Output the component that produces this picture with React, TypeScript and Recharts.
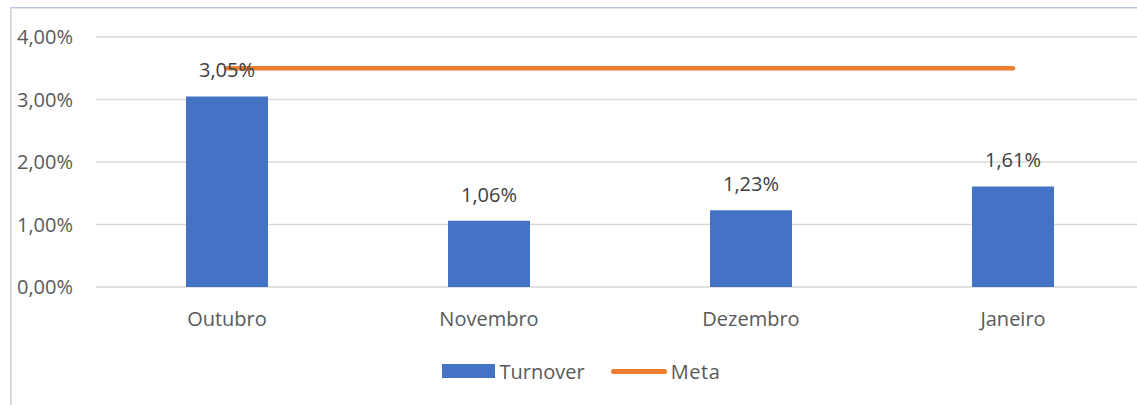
import {
  Bar,
  CartesianGrid,
  ComposedChart,
  LabelList,
  Legend,
  Line,
  XAxis,
  YAxis,
} from 'recharts'

const months = ['Outubro', 'Novembro', 'Dezembro', 'Janeiro']
const turnover = [3.05, 1.06, 1.23, 1.61]
const meta = [3.5, 3.5, 3.5, 3.5]
const yTicks = [0, 1, 2, 3, 4]

const data = months.map((name, i) => ({
  name,
  turnover: turnover[i],
  meta: meta[i],
}))

const font = "'Open Sans', sans-serif"
const textColor = '#595959'

const pct = (v: number) => v.toFixed(2).replace('.', ',') + '%'

function ChartLegend() {
  return (
    <div
      style={{
        display: 'flex',
        justifyContent: 'center',
        alignItems: 'center',
        height: 30,
        paddingLeft: 19,
        fontFamily: font,
        fontSize: 20,
        color: textColor,
      }}
    >
      <span style={{ width: 53, height: 14, background: '#4472C4', marginRight: 4 }} />
      <span>Turnover</span>
      <span
        style={{
          width: 56,
          height: 5,
          borderRadius: 3,
          background: '#ED7D31',
          marginLeft: 26,
          marginRight: 4,
        }}
      />
      <span style={{ letterSpacing: 0.6 }}>Meta</span>
    </div>
  )
}

export default function App() {
  return (
    <div
      style={{
        position: 'absolute',
        left: 0,
        top: 0,
        width: 1137,
        height: 405,
        overflow: 'hidden',
        background: '#fff',
      }}
    >
      <div
        style={{
          position: 'absolute',
          left: 10,
          top: 7,
          right: 0,
          bottom: 0,
          borderTop: '1px solid #b9c4e2',
          borderLeft: '2px solid #d9d9d9',
        }}
      />
      <div style={{ position: 'absolute', left: 12, top: 8, right: 0, height: 1, background: '#e6e6e6' }} />
      <div style={{ position: 'absolute', left: 0, top: 0 }}>
        <ComposedChart
          width={1160}
          height={405}
          data={data}
          margin={{ top: 37, right: 16, left: 0, bottom: 19 }}
        >
          <CartesianGrid vertical={false} stroke='#d9d9d9' strokeWidth={1.5} />
          <XAxis
            dataKey='name'
            height={69}
            tickLine={false}
            axisLine={false}
            tickMargin={19}
            tick={{ fill: textColor, fontSize: 20, fontFamily: font }}
          />
          <YAxis
            width={96}
            domain={[0, 4]}
            ticks={yTicks}
            tickFormatter={pct}
            tickLine={false}
            axisLine={false}
            tickMargin={17}
            tick={{ fill: textColor, fontSize: 20, fontFamily: font }}
          />
          <Legend verticalAlign='bottom' content={<ChartLegend />} />
          <Bar dataKey='turnover' fill='#4472C4' barSize={82} isAnimationActive={false}>
            <LabelList
              dataKey='turnover'
              position='top'
              offset={19}
              formatter={(v: any) => pct(Number(v))}
              fill='#404040'
              fontSize={20}
              fontFamily={font}
            />
          </Bar>
          <Line
            dataKey='meta'
            type='linear'
            stroke='#ED7D31'
            strokeWidth={4.5}
            strokeLinecap='round'
            dot={false}
            activeDot={false}
            isAnimationActive={false}
          />
        </ComposedChart>
      </div>
    </div>
  )
}
